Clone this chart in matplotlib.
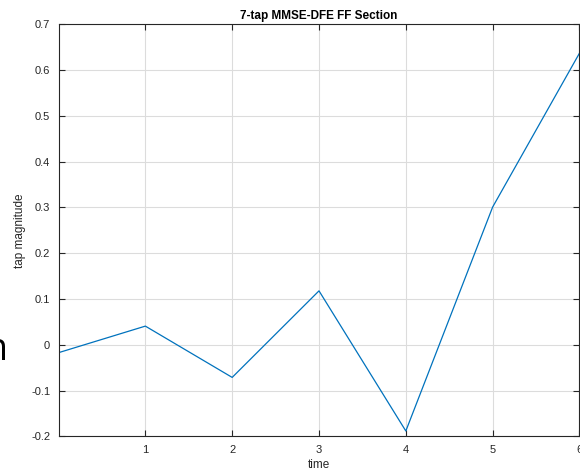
import matplotlib.pyplot as plt
import numpy as np

plt.rcParams['font.family'] = ['Liberation Sans', 'DejaVu Sans']

# tap index and feed-forward tap values
taps = [0, 1, 2, 3, 4, 5, 6]
tap_values = [-0.017, 0.041, -0.071, 0.118, -0.188, 0.301, 0.637]

xtick_pos = [1, 2, 3, 4, 5, 6]
ytick_pos = [-0.2, -0.1, 0, 0.1, 0.2, 0.3, 0.4, 0.5, 0.6, 0.7]
ytick_labels = ['-0.2', '-0.1', '0', '0.1', '0.2', '0.3', '0.4', '0.5', '0.6', '0.7']

fig = plt.figure(figsize=(5.8, 4.7), dpi=100)
ax = fig.add_axes([0.1009, 0.0713, 0.8982, 0.877])

ax.plot(taps, tap_values, color='#0072BD', linewidth=0.9)

ax.set_xlim(0, 6)
ax.set_ylim(-0.2, 0.7)
ax.set_xticks(xtick_pos)
ax.set_yticks(ytick_pos)
ax.set_yticklabels(ytick_labels)

ax.grid(True, color='#dcdcdc', linewidth=0.8)
ax.set_axisbelow(True)
ax.tick_params(direction='in', length=4, width=0.8, top=True, right=True,
               labelsize=8, colors='#262626', pad=6)
for s in ax.spines.values():
    s.set_color('#262626')
    s.set_linewidth(0.8)

ax.set_title('7-tap MMSE-DFE FF Section', fontsize=8.5, fontweight='bold', pad=4)
ax.set_xlabel('time', fontsize=8.5, color='#262626', labelpad=3)
ax.set_ylabel('tap magnitude', fontsize=8.5, color='#262626', labelpad=4)

# stray cut-off text at the left edge
fig.text(-0.027, 0.255, 'n', fontsize=27, color='black', ha='left', va='center',
         family=['Open Sans', 'DejaVu Sans'])

fig.savefig('out.png', dpi=100)
